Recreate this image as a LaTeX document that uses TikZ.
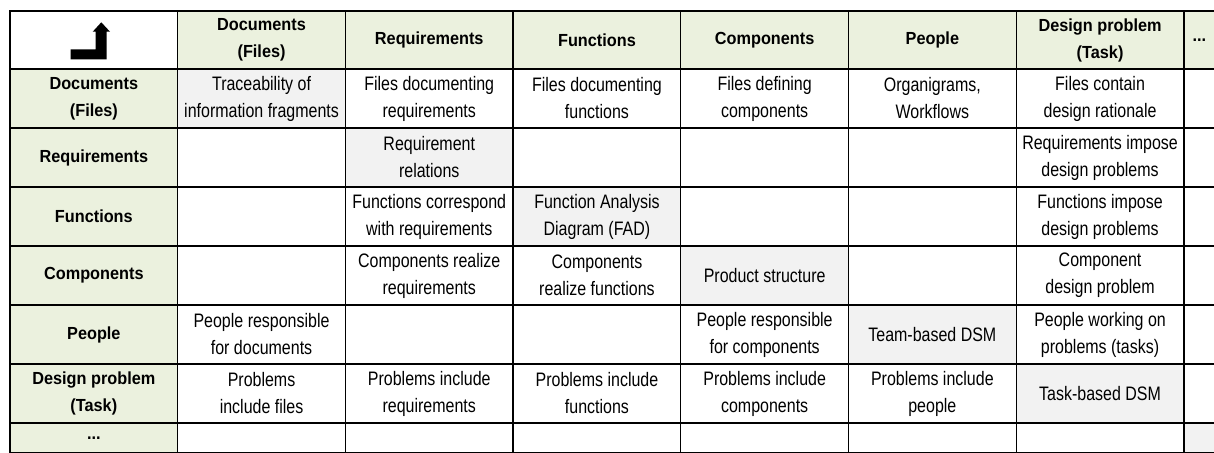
\documentclass[tikz,border=0pt]{standalone}
\usepackage{fontspec}
\setmainfont{Liberation Sans}
\newfontfamily\cellfont[FakeStretch=0.82]{Liberation Sans}
\newfontfamily\headfont[FakeStretch=0.93]{Liberation Sans}
\usepackage{xcolor}
\usetikzlibrary{positioning}
\definecolor{headgreen}{HTML}{EBF1DE}
\definecolor{diaggray}{HTML}{F2F2F2}

\begin{document}
\begin{tikzpicture}[
  x=1pt, y=-1pt,
  cell/.style={rectangle, draw, line width=1.3pt, outer sep=0pt, inner sep=0pt,
               minimum width=167.7pt, minimum height=59pt, align=center,
               font=\cellfont\fontsize{19.5}{27}\selectfont},
  head/.style={cell, fill=headgreen,
               font=\headfont\bfseries\fontsize{17.5}{27}\selectfont},
  top/.style={head, minimum height=58pt},
  diag/.style={cell, fill=diaggray},
  more/.style={minimum width=31pt},
  last/.style={minimum height=30pt},
  node distance=0pt
]
  \useasboundingbox (0,0) rectangle (1214,452);
  \clip (0,0) rectangle (1214,452);

  % header row
  \node[cell, minimum height=58pt, anchor=north west] (corner) at (10,11) {};
  \node[top, right=of corner] (hDoc)  {Documents\\(Files)};
  \node[top, right=of hDoc]   (hReq)  {Requirements};
  \node[top, right=of hReq]   (hFun)  {Functions};
  \node[top, right=of hFun]   (hComp) {Components};
  \node[top, right=of hComp]  (hPeo)  {People};
  \node[top, right=of hPeo]   (hTask) {Design problem\\(Task)};
  \node[top, more, right=of hTask] (hMore) {...};
  \fill (70.7,59.3) -- (70.7,49.3) -- (95.7,49.3) -- (95.7,31.7) -- (92.7,31.7)
    -- (101.3,22.3) -- (110,31.7) -- (106.7,31.7) -- (106.7,59.3) -- cycle;

  % documents
  \node[head, below=of corner] (rDoc) {Documents\\(Files)};
  \node[diag, right=of rDoc] (c11) {Traceability of\\information fragments};
  \node[cell, right=of c11]  (c12) {Files documenting\\requirements};
  \node[cell, right=of c12]  (c13) {Files documenting\\functions};
  \node[cell, right=of c13]  (c14) {Files defining\\components};
  \node[cell, right=of c14]  (c15) {Organigrams,\\Workflows};
  \node[cell, right=of c15]  (c16) {Files contain\\design rationale};
  \node[cell, more, right=of c16] (c17) {};

  % requirements
  \node[head, below=of rDoc] (rReq) {Requirements};
  \node[cell, right=of rReq] (c21) {};
  \node[diag, right=of c21]  (c22) {Requirement\\relations};
  \node[cell, right=of c22]  (c23) {};
  \node[cell, right=of c23]  (c24) {};
  \node[cell, right=of c24]  (c25) {};
  \node[cell, right=of c25]  (c26) {Requirements impose\\design problems};
  \node[cell, more, right=of c26] (c27) {};

  % functions
  \node[head, below=of rReq] (rFun) {Functions};
  \node[cell, right=of rFun] (c31) {};
  \node[cell, right=of c31]  (c32) {Functions correspond\\with requirements};
  \node[diag, right=of c32]  (c33) {Function Analysis\\Diagram (FAD)};
  \node[cell, right=of c33]  (c34) {};
  \node[cell, right=of c34]  (c35) {};
  \node[cell, right=of c35]  (c36) {Functions impose\\design problems};
  \node[cell, more, right=of c36] (c37) {};

  % components
  \node[head, below=of rFun] (rComp) {Components};
  \node[cell, right=of rComp] (c41) {};
  \node[cell, right=of c41]  (c42) {Components realize\\requirements};
  \node[cell, right=of c42]  (c43) {Components\\realize functions};
  \node[diag, right=of c43]  (c44) {Product structure};
  \node[cell, right=of c44]  (c45) {};
  \node[cell, right=of c45]  (c46) {Component\\design problem};
  \node[cell, more, right=of c46] (c47) {};

  % people
  \node[head, below=of rComp] (rPeo) {People};
  \node[cell, right=of rPeo] (c51) {People responsible\\for documents};
  \node[cell, right=of c51]  (c52) {};
  \node[cell, right=of c52]  (c53) {};
  \node[cell, right=of c53]  (c54) {People responsible\\for components};
  \node[diag, right=of c54]  (c55) {Team-based DSM};
  \node[cell, right=of c55]  (c56) {People working on\\problems (tasks)};
  \node[cell, more, right=of c56] (c57) {};

  % design problem
  \node[head, below=of rPeo] (rTask) {Design problem\\(Task)};
  \node[cell, right=of rTask] (c61) {Problems\\include files};
  \node[cell, right=of c61]  (c62) {Problems include\\requirements};
  \node[cell, right=of c62]  (c63) {Problems include\\functions};
  \node[cell, right=of c63]  (c64) {Problems include\\components};
  \node[cell, right=of c64]  (c65) {Problems include\\people};
  \node[diag, right=of c65]  (c66) {Task-based DSM};
  \node[cell, more, right=of c66] (c67) {};

  % more rows
  \node[head, last, below=of rTask] (rMore) {...};
  \node[cell, last, right=of rMore] (c71) {};
  \node[cell, last, right=of c71]  (c72) {};
  \node[cell, last, right=of c72]  (c73) {};
  \node[cell, last, right=of c73]  (c74) {};
  \node[cell, last, right=of c74]  (c75) {};
  \node[cell, last, right=of c75]  (c76) {};
  \node[diag, last, more, right=of c76] (c77) {};
\end{tikzpicture}
\end{document}
